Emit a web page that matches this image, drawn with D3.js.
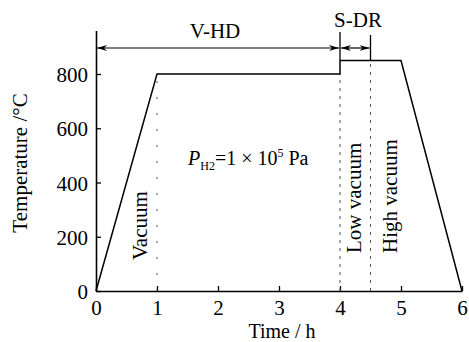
<!DOCTYPE html>
<html>
<head>
<meta charset="utf-8">
<script src="https://cdn.jsdelivr.net/npm/d3@7"></script>
<style>
  body { margin: 0; background: #fff; }
  svg text { font-family: "Liberation Serif", "Times New Roman", serif; }
</style>
</head>
<body>
<svg id="chart" width="469" height="342"></svg>
<script>
// Heating profile: time (h) vs temperature (°C)
const timeH = [0, 1, 4, 4, 5, 6];
const tempC = [0, 800, 800, 850, 850, 0];

// Tick labels
const xTicks = [0, 1, 2, 3, 4, 5, 6];
const yTicks = [0, 200, 400, 600, 800];

// Dotted stage separators
const stageX = [1, 4, 4.5];
const stageTop = [800, 800, 850];

// Process brackets on top
const phaseNames = ["V-HD", "S-DR"];
const phaseStart = [0, 4];
const phaseEnd = [4, 4.5];

// Vertical stage labels
const stageNames = ["Vacuum", "Low vacuum", "High vacuum"];

const width = 469;
const height = 342;
const svg = d3.select("#chart");

const x = d3.scaleLinear().domain([0, 6]).range([96, 462]);
const y = d3.scaleLinear().domain([0, 960]).range([291, 30.6]);

// arrow marker
const defs = svg.append("defs");
defs.append("marker")
  .attr("id", "arr")
  .attr("viewBox", "0 0 10 6")
  .attr("refX", 10).attr("refY", 3)
  .attr("markerWidth", 10).attr("markerHeight", 6)
  .attr("markerUnits", "userSpaceOnUse")
  .attr("orient", "auto-start-reverse")
  .append("path")
  .attr("d", "M0,0 L10,3 L0,6 L3,3 Z")
  .attr("fill", "#000");

// axes
const yAxis = d3.axisLeft(y).tickValues(yTicks).tickSize(-5).tickSizeOuter(0).tickPadding(8);
const xAxis = d3.axisBottom(x).tickValues(xTicks).tickFormat(d3.format("d"))
  .tickSize(-5).tickSizeOuter(0).tickPadding(9);

const gy = svg.append("g").attr("transform", "translate(96,0)").call(yAxis);
const gx = svg.append("g").attr("transform", "translate(0,291)").call(xAxis);

[gx, gy].forEach(g => {
  g.attr("font-family", null).attr("font-size", null);
  g.select(".domain").attr("stroke", "#000").attr("stroke-width", 1.6);
  g.selectAll(".tick line").attr("stroke", "#000").attr("stroke-width", 1.3);
  g.selectAll(".tick text")
    .attr("font-size", 21)
    .attr("fill", "#000");
});
gy.selectAll(".tick text").attr("dy", "0.36em");
gx.selectAll(".tick text").attr("dy", "0.72em");

// dotted separators
svg.selectAll(".sep")
  .data(stageX)
  .enter().append("line")
  .attr("x1", d => x(d)).attr("x2", d => x(d))
  .attr("y1", y(0))
  .attr("y2", (d, i) => y(stageTop[i]))
  .attr("stroke", "#555")
  .attr("stroke-width", 1)
  .attr("stroke-dasharray", (d, i) => i === 0 ? "2,14" : "3,5");

// temperature curve
const line = d3.line().x(d => x(d[0])).y(d => y(d[1]));
svg.append("path")
  .datum(timeH.map((t, i) => [t, tempC[i]]))
  .attr("d", line)
  .attr("fill", "none")
  .attr("stroke", "#000")
  .attr("stroke-width", 1.5);

// phase brackets
svg.append("line")
  .attr("x1", x(4)).attr("x2", x(4))
  .attr("y1", 32).attr("y2", y(850))
  .attr("stroke", "#000").attr("stroke-width", 1.3);
svg.append("line")
  .attr("x1", x(4.5)).attr("x2", x(4.5))
  .attr("y1", 35).attr("y2", y(850))
  .attr("stroke", "#000").attr("stroke-width", 1.3);

svg.selectAll(".phase")
  .data(phaseNames)
  .enter().append("line")
  .attr("x1", (d, i) => x(phaseStart[i]) + 1)
  .attr("x2", (d, i) => x(phaseEnd[i]) - 1)
  .attr("y1", 48).attr("y2", 48)
  .attr("stroke", "#000").attr("stroke-width", 1.2)
  .attr("marker-start", "url(#arr)")
  .attr("marker-end", "url(#arr)");

svg.selectAll(".phaseLabel")
  .data(phaseNames)
  .enter().append("text")
  .attr("x", (d, i) => i === 0 ? 215 : 358)
  .attr("y", (d, i) => i === 0 ? 38 : 27)
  .attr("text-anchor", "middle")
  .attr("font-size", 21)
  .text(d => d);

// vertical stage labels
const stageBase = [260, 253, 253];
const stageOff = [147, 361, 397];
svg.selectAll(".stage")
  .data(stageNames)
  .enter().append("text")
  .attr("transform", (d, i) => `translate(${stageOff[i]},${stageBase[i]}) rotate(-90)`)
  .attr("font-size", 21)
  .text(d => d);

// pressure annotation
const p = svg.append("text").attr("x", 188).attr("y", 165).attr("font-size", 20);
p.append("tspan").attr("font-style", "italic").text("P");
p.append("tspan").attr("font-size", 12).attr("dy", 5).text("H2");
p.append("tspan").attr("dy", -5).text("=1 × 10");
p.append("tspan").attr("font-size", 12).attr("dy", -8).text("5");
p.append("tspan").attr("dy", 8).text(" Pa");

// axis titles
svg.append("text")
  .attr("x", 282).attr("y", 337.5)
  .attr("text-anchor", "middle")
  .attr("font-size", 20)
  .text("Time / h");

svg.append("text")
  .attr("transform", "translate(27,163) rotate(-90)")
  .attr("text-anchor", "middle")
  .attr("font-size", 21)
  .text("Temperature /°C");
</script>
</body>
</html>
